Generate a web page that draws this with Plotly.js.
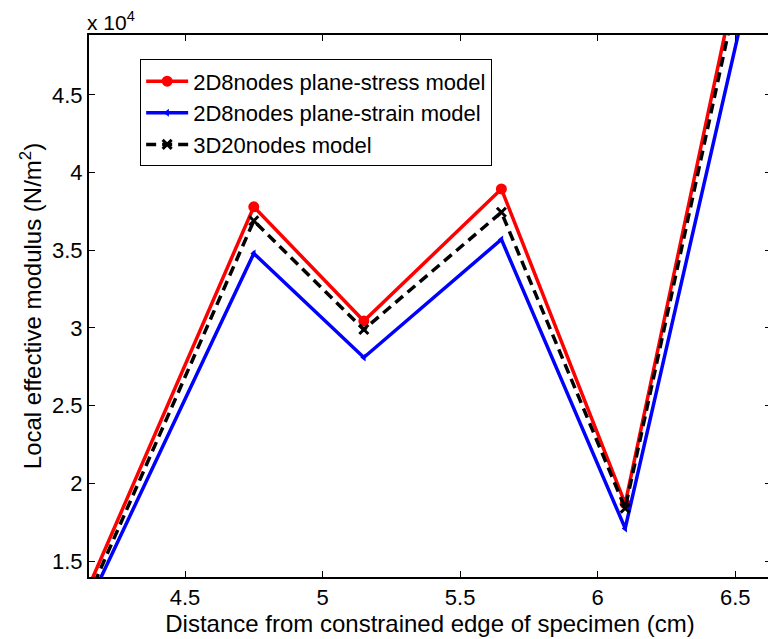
<!DOCTYPE html>
<html>
<head>
<meta charset="utf-8">
<script src="https://cdn.plot.ly/plotly-3.0.1.min.js"></script>
<style>
html,body{margin:0;padding:0;overflow:hidden;background:#fff;}
#chart{width:771px;height:639px;}
</style>
</head>
<body>
<div id="chart"></div>
<script>
// Distance from constrained edge (cm)
const xDist = [4.1, 4.75, 5.15, 5.65, 6.1, 6.6];
// Local effective modulus (N/m^2)
const planeStress = [11300, 37800, 30450, 38950, 18700, 60400];
const planeStrain = [10400, 34800, 28100, 35700, 17100, 55800];
const solid3D     = [10750, 36900, 29900, 37450, 18400, 59200];
const seriesNames = ['2D8nodes plane-stress model', '2D8nodes plane-strain model', '3D20nodes model'];
const xTicks = [4.5, 5, 5.5, 6, 6.5];
const xTickText = ['4.5', '5', '5.5', '6', '6.5'];
const yTicks = [15000, 20000, 25000, 30000, 35000, 40000, 45000];
const yTickText = ['1.5', '2', '2.5', '3', '3.5', '4', '4.5'];

const font = {family: 'Liberation Sans, Arial, sans-serif', color: '#000'};

const traces = [
  {x: xDist, y: planeStress, name: seriesNames[0], type: 'scatter', mode: 'lines+markers',
   line: {color: '#ff0000', width: 3.5},
   marker: {symbol: 'circle', size: 11, color: '#ff0000'}},
  {x: xDist, y: planeStrain, name: seriesNames[1], type: 'scatter', mode: 'lines+markers',
   line: {color: '#0000ff', width: 3.5},
   marker: {symbol: 'triangle-left', size: 7, color: '#0000ff'}},
  {x: xDist, y: solid3D, name: seriesNames[2], type: 'scatter', mode: 'lines+markers',
   line: {color: '#000000', width: 3.5, dash: '10px,6px'},
   marker: {symbol: 'x-thin', size: 9, color: '#000000', line: {width: 3, color: '#000'}}}
];

const layout = {
  width: 771, height: 639,
  margin: {l: 89, r: 0, t: 35, b: 62},
  paper_bgcolor: '#fff', plot_bgcolor: '#fff',
  showlegend: true,
  font: Object.assign({size: 22}, font),
  xaxis: {
    range: [4.151, 6.630], tickvals: xTicks, ticktext: xTickText,
    ticks: 'inside', ticklen: 6, tickwidth: 1, tickcolor: '#000',
    showline: true, linecolor: '#000', linewidth: 2, mirror: 'ticks',
    showgrid: false, zeroline: false,
    tickfont: Object.assign({size: 22}, font),
    title: {text: 'Distance from constrained edge of specimen (cm)', font: Object.assign({size: 24}, font), standoff: 2}
  },
  yaxis: {
    range: [13970, 48860], tickvals: yTicks, ticktext: yTickText,
    ticks: 'inside', ticklen: 6, tickwidth: 1, tickcolor: '#000',
    showline: true, linecolor: '#000', linewidth: 2, mirror: 'ticks',
    showgrid: false, zeroline: false,
    tickfont: Object.assign({size: 22}, font),
    title: {text: 'Local effective modulus (N/m<sup>2</sup>)', font: Object.assign({size: 24}, font), standoff: 4}
  },
  legend: {
    x: 0.075, y: 0.955, xanchor: 'left', yanchor: 'top',
    bgcolor: '#fff', bordercolor: '#000', borderwidth: 1,
    font: Object.assign({size: 22}, font),
    itemwidth: 42,
    tracegroupgap: 0
  },
  annotations: [{
    xref: 'paper', yref: 'paper', x: 0, y: 1, xanchor: 'left', yanchor: 'bottom',
    xshift: -4, yshift: -1,
    text: 'x 10<sup>4</sup>', showarrow: false, font: Object.assign({size: 21}, font)
  }]
};

Plotly.newPlot('chart', traces, layout, {displayModeBar: false, staticPlot: true});
</script>
</body>
</html>
